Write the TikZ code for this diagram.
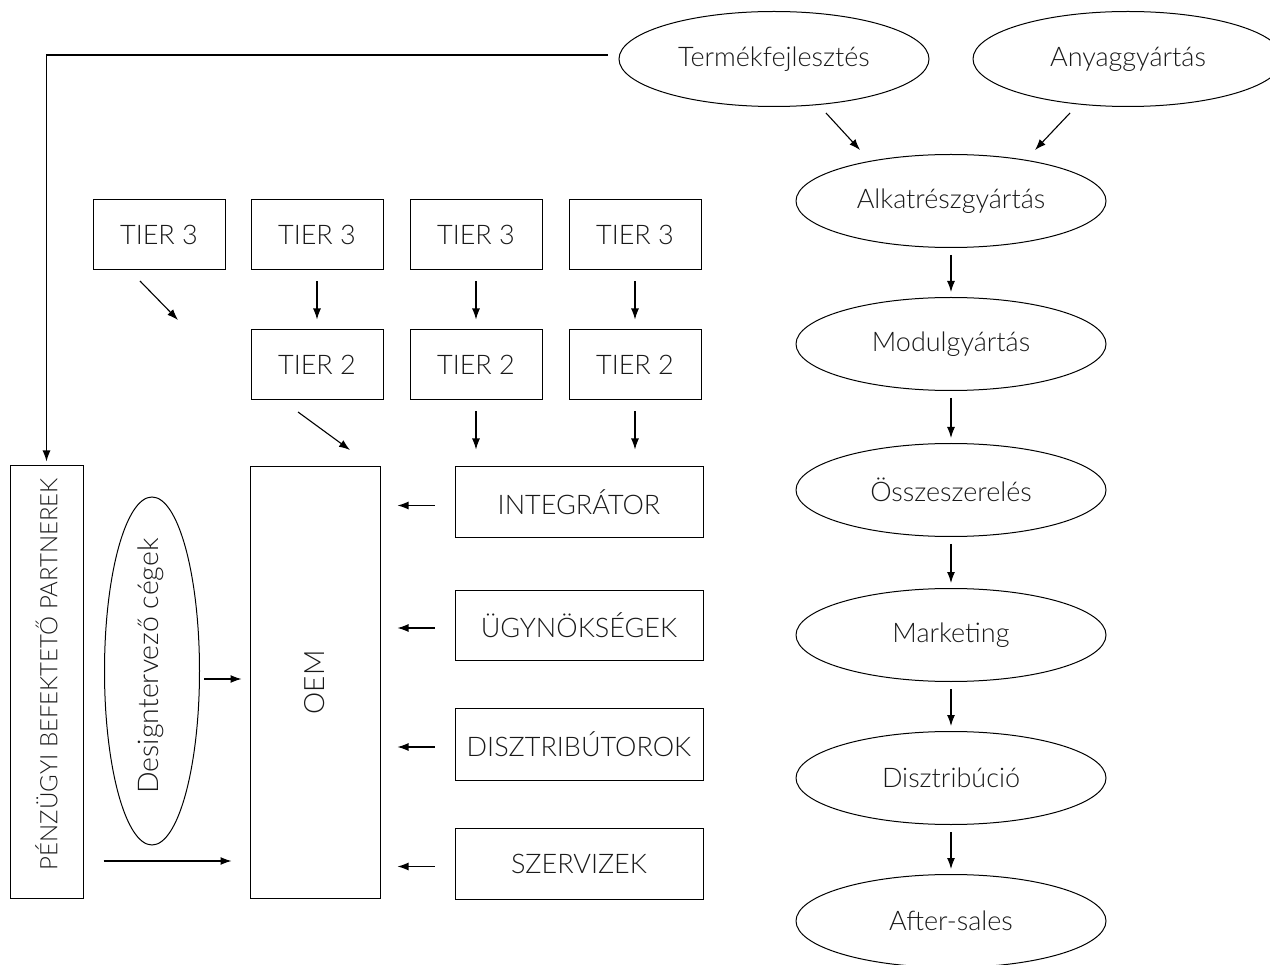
\documentclass[tikz,border=0pt]{standalone}
\usepackage{fontspec}
\setmainfont{Lato}[UprightFont=* Light]
\usetikzlibrary{shapes.geometric,arrows.meta,calc}
\begin{document}
\begin{tikzpicture}[x=1pt,y=-1pt,
  every node/.style={font=\fontsize{27}{31}\selectfont, text=black!90},
  box/.style={draw, line width=1pt, minimum width=132pt, minimum height=70pt, inner sep=0pt},
  oval/.style={draw, ellipse, line width=1pt, minimum width=310pt, minimum height=93pt, inner sep=0pt},
  arr/.style={line width=1.1pt, -{Latex[length=11pt,width=8pt]}}
]
\useasboundingbox (0,0) rectangle (1270,965);
\clip (0,0) rectangle (1270,965);
% right column
\node[oval, minimum height=95pt] (TF) at (774,59) {Termékfejlesztés};
\node[oval, minimum height=95pt] (AG) at (1128,59) {Anyaggyártás};
\node[oval] (ALK) at (951,201) {Alkatrészgyártás};
\node[oval] (MOD) at (951,344) {Modulgyártás};
\node[oval] (OSS) at (951,490) {Összeszerelés};
\node[oval] (MAR) at (951,635) {Marketing};
\node[oval] (DIS) at (951,778) {Disztribúció};
\node[oval] (AS) at (951,921) {After-sales};
% tiers
\node[box] (T3a) at (159,235) {TIER 3};
\node[box] (T3b) at (317,235) {TIER 3};
\node[box] (T3c) at (476,235) {TIER 3};
\node[box] (T3d) at (635,235) {TIER 3};
\node[box] (T2b) at (317,365) {TIER 2};
\node[box] (T2c) at (476,365) {TIER 2};
\node[box] (T2d) at (635,365) {TIER 2};
% OEM etc
\node[box, minimum width=130pt, minimum height=431pt, font=\fontsize{28}{32}\selectfont] (OEM) at (315,682.5) {\rotatebox{90}{OEM}};
\node[box, minimum width=248pt, minimum height=71pt] (INT) at (579,502.5) {INTEGRÁTOR};
\node[box, minimum width=248pt, minimum height=70pt] (UGY) at (579,625) {ÜGYNÖKSÉGEK};
\node[box, minimum width=248pt, minimum height=72pt] (DST) at (579,744) {DISZTRIBÚTOROK};
\node[box, minimum width=248pt, minimum height=71pt] (SZE) at (579,863.5) {SZERVIZEK};
\node[box, minimum width=73pt, minimum height=432pt] (PEN) at (46.5,682) {};
\node[font=\fontsize{24}{28}\selectfont, inner sep=0pt] (PENtxt) at ([yshift=8pt]PEN.center) {\rotatebox{90}{PÉNZÜGYI BEFEKTETŐ PARTNEREK}};
\node[oval, minimum width=95pt, minimum height=348pt] (DES) at (152,671) {};
\node[font=\fontsize{28.5}{32}\selectfont, inner sep=0pt] (DEStxt) at ([xshift=-1pt,yshift=5pt]DES.center) {\rotatebox{90}{Designtervező cégek}};
% free-end coordinates
\coordinate (a1s) at (826,113); \coordinate (a1e) at (860,150);
\coordinate (a2s) at (1070,113); \coordinate (a2e) at (1035,150);
\coordinate (t3s) at (140,281); \coordinate (t3e) at (178,320);
\coordinate (t2s) at (298,412); \coordinate (t2e) at (350,450);
% arrows right column
\draw[arr] (a1s) -- (a1e);
\draw[arr] (a2s) -- (a2e);
\foreach \p/\q in {ALK/MOD, MOD/OSS, OSS/MAR, MAR/DIS, DIS/AS}
  \draw[arr, shorten <=7pt, shorten >=5pt] (\p.south) -- (\q.north);
% tier arrows
\draw[arr] (t3s) -- (t3e);
\foreach \p/\q in {T3b/T2b, T3c/T2c, T3d/T2d}
  \draw[arr, shorten <=11pt, shorten >=10pt] (\p.south) -- (\q.north);
\draw[arr] (t2s) -- (t2e);
\draw[arr, shorten <=11pt, shorten >=17pt] (T2c.south) -- (T2c.south |- INT.north);
\draw[arr, shorten <=11pt, shorten >=17pt] (T2d.south) -- (T2d.south |- INT.north);
% left arrows into OEM
\foreach \n in {INT, UGY, DST, SZE}
  \draw[arr, shorten <=20pt, shorten >=17pt] ([yshift=-3pt]\n.west) -- ([yshift=-3pt]\n.west -| OEM.east);
\draw[arr, shorten <=4pt, shorten >=8pt] ([yshift=-8pt]DES.east) -- ([yshift=-8pt]DES.east -| OEM.west);
\draw[arr, shorten <=20pt, shorten >=18pt] ([yshift=-179pt]PEN.east) -- ([yshift=-179pt]PEN.east -| OEM.west);
% top connector
\draw[arr, shorten <=11pt, shorten >=4pt] ([yshift=4pt]TF.west) -| (PEN.north);
\end{tikzpicture}
\end{document}
